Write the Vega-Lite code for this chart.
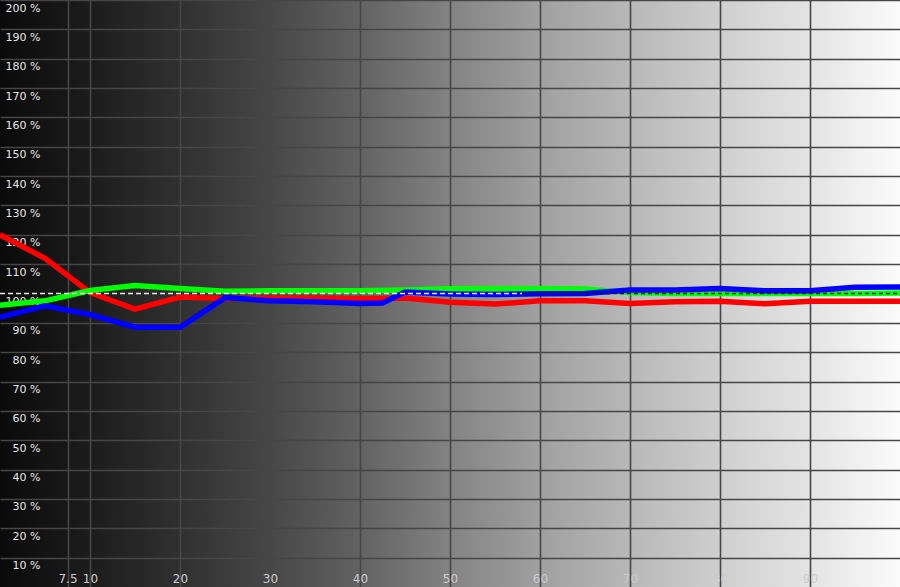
{
  "$schema": "https://vega.github.io/schema/vega-lite/v6.json",
  "width": 900,
  "height": 587,
  "autosize": "none",
  "padding": 0,
  "background": "#000000",
  "view": {
    "stroke": null,
    "fill": {
      "gradient": "linear",
      "x1": 0, "y1": 0, "x2": 1, "y2": 0,
      "stops": [
        {"offset": 0, "color": "#0a0a0a"},
        {"offset": 0.1, "color": "#1c1c1c"},
        {"offset": 0.2, "color": "#303030"},
        {"offset": 0.3, "color": "#474747"},
        {"offset": 0.4, "color": "#626262"},
        {"offset": 0.5, "color": "#838383"},
        {"offset": 0.6, "color": "#a0a0a0"},
        {"offset": 0.7, "color": "#b8b8b8"},
        {"offset": 0.8, "color": "#cfcfcf"},
        {"offset": 0.9, "color": "#e4e4e4"},
        {"offset": 1, "color": "#fbfbfb"}
      ]
    }
  },
  "datasets": {
    "rgb": [
      {"level": 0, "ch": "R", "pct": 120}, {"level": 5, "ch": "R", "pct": 112}, {"level": 10, "ch": "R", "pct": 100.3},
      {"level": 15, "ch": "R", "pct": 94.7}, {"level": 20, "ch": "R", "pct": 98.8}, {"level": 25, "ch": "R", "pct": 98.3},
      {"level": 30, "ch": "R", "pct": 98.5}, {"level": 35, "ch": "R", "pct": 98.5}, {"level": 40, "ch": "R", "pct": 98.2},
      {"level": 45, "ch": "R", "pct": 98.5}, {"level": 50, "ch": "R", "pct": 97.0}, {"level": 55, "ch": "R", "pct": 96.4},
      {"level": 60, "ch": "R", "pct": 97.5}, {"level": 65, "ch": "R", "pct": 97.5}, {"level": 70, "ch": "R", "pct": 96.6},
      {"level": 75, "ch": "R", "pct": 97.2}, {"level": 80, "ch": "R", "pct": 97.4}, {"level": 85, "ch": "R", "pct": 96.5},
      {"level": 90, "ch": "R", "pct": 97.4}, {"level": 95, "ch": "R", "pct": 97.4}, {"level": 100, "ch": "R", "pct": 97.4},
      {"level": 0, "ch": "G", "pct": 96}, {"level": 5, "ch": "G", "pct": 97.5}, {"level": 10, "ch": "G", "pct": 101},
      {"level": 15, "ch": "G", "pct": 102.7}, {"level": 20, "ch": "G", "pct": 101.7}, {"level": 25, "ch": "G", "pct": 100.8},
      {"level": 30, "ch": "G", "pct": 100.9}, {"level": 35, "ch": "G", "pct": 100.9}, {"level": 40, "ch": "G", "pct": 100.9},
      {"level": 45, "ch": "G", "pct": 101.2}, {"level": 50, "ch": "G", "pct": 101.6}, {"level": 55, "ch": "G", "pct": 101.6},
      {"level": 60, "ch": "G", "pct": 101.6}, {"level": 65, "ch": "G", "pct": 101.5}, {"level": 70, "ch": "G", "pct": 100.3},
      {"level": 75, "ch": "G", "pct": 100}, {"level": 80, "ch": "G", "pct": 100}, {"level": 85, "ch": "G", "pct": 100},
      {"level": 90, "ch": "G", "pct": 100}, {"level": 95, "ch": "G", "pct": 100}, {"level": 100, "ch": "G", "pct": 100.2},
      {"level": 0, "ch": "B", "pct": 92}, {"level": 5, "ch": "B", "pct": 95.8}, {"level": 10, "ch": "B", "pct": 92.8},
      {"level": 15, "ch": "B", "pct": 88.5}, {"level": 20, "ch": "B", "pct": 88.5}, {"level": 25, "ch": "B", "pct": 98.6},
      {"level": 30, "ch": "B", "pct": 97.5}, {"level": 35, "ch": "B", "pct": 97.2}, {"level": 40, "ch": "B", "pct": 96.6},
      {"level": 42.5, "ch": "B", "pct": 96.8},
      {"level": 45, "ch": "B", "pct": 100.5}, {"level": 50, "ch": "B", "pct": 99.8}, {"level": 55, "ch": "B", "pct": 99.7},
      {"level": 60, "ch": "B", "pct": 99.9}, {"level": 65, "ch": "B", "pct": 100}, {"level": 70, "ch": "B", "pct": 101.2},
      {"level": 75, "ch": "B", "pct": 101.2}, {"level": 80, "ch": "B", "pct": 101.7}, {"level": 85, "ch": "B", "pct": 100.9},
      {"level": 90, "ch": "B", "pct": 100.9}, {"level": 95, "ch": "B", "pct": 102.1}, {"level": 100, "ch": "B", "pct": 102.2}
    ],
    "ref": [
      {"start": 0, "end": 58, "target": 100, "tone": "light"},
      {"start": 58, "end": 100, "target": 100, "tone": "dark"}
    ]
  },
  "data": {"name": "rgb"},
  "encoding": {
    "x": {
      "field": "level",
      "type": "quantitative",
      "scale": {"domain": [0, 100], "nice": false, "zero": false},
      "axis": {
        "orient": "bottom",
        "title": null,
        "values": [7.5, 10, 20, 30, 40, 50, 60, 70, 80, 90],
        "labelExpr": "'' + datum.value",
        "domain": false,
        "ticks": false,
        "tickSize": 0,
        "labelPadding": -5,
        "labelBaseline": "alphabetic",
        "labelAlign": "center",
        "labelFont": "DejaVu Sans",
        "labelFontSize": 12,
        "labelColor": "#cccccc",
        "labelFlush": false,
        "labelOverlap": false,
        "labelBound": false,
        "grid": true,
        "gridColor": "#464646",
        "gridWidth": 1.6
      }
    },
    "y": {
      "field": "pct",
      "type": "quantitative",
      "scale": {"domain": [0, 200], "nice": false, "zero": false},
      "axis": {
        "orient": "left",
        "title": null,
        "values": [10, 20, 30, 40, 50, 60, 70, 80, 90, 100, 110, 120, 130, 140, 150, 160, 170, 180, 190, 200],
        "labelExpr": "datum.value + ' %'",
        "domain": false,
        "ticks": false,
        "tickSize": 0,
        "labelPadding": -40,
        "labelAlign": "right",
        "labelBaseline": "top",
        "labelOffset": 2,
        "labelFont": "DejaVu Sans",
        "labelFontSize": 11,
        "labelColor": "#e6e6e6",
        "labelFlush": false,
        "labelOverlap": false,
        "labelBound": false,
        "grid": true,
        "gridColor": "#464646",
        "gridWidth": 1.5,
        "gridOpacity": {"condition": {"test": "datum.value === 100", "value": 0}, "value": 1}
      }
    }
  },
  "layer": [
    {
      "transform": [{"filter": "datum.ch === 'R'"}],
      "mark": {"type": "line", "color": "#ff0000", "strokeWidth": 5.5}
    },
    {
      "transform": [{"filter": "datum.ch === 'G'"}],
      "mark": {"type": "line", "color": "#00ff00", "strokeWidth": 5.5}
    },
    {
      "transform": [{"filter": "datum.ch === 'B'"}],
      "mark": {"type": "line", "color": "#0000ff", "strokeWidth": 5.5}
    },
    {
      "data": {"name": "ref"},
      "transform": [{"filter": "datum.tone === 'light'"}],
      "mark": {"type": "rule", "color": "#e8e8e8", "strokeWidth": 1.5, "strokeDash": [5, 3]},
      "encoding": {
        "x": {"field": "start", "type": "quantitative"},
        "x2": {"field": "end"},
        "y": {"field": "target", "type": "quantitative"}
      }
    },
    {
      "data": {"name": "ref"},
      "transform": [{"filter": "datum.tone === 'dark'"}],
      "mark": {"type": "rule", "color": "#1e1e1e", "strokeWidth": 1.5, "strokeDash": [4, 3]},
      "encoding": {
        "x": {"field": "start", "type": "quantitative"},
        "x2": {"field": "end"},
        "y": {"field": "target", "type": "quantitative"}
      }
    }
  ]
}
